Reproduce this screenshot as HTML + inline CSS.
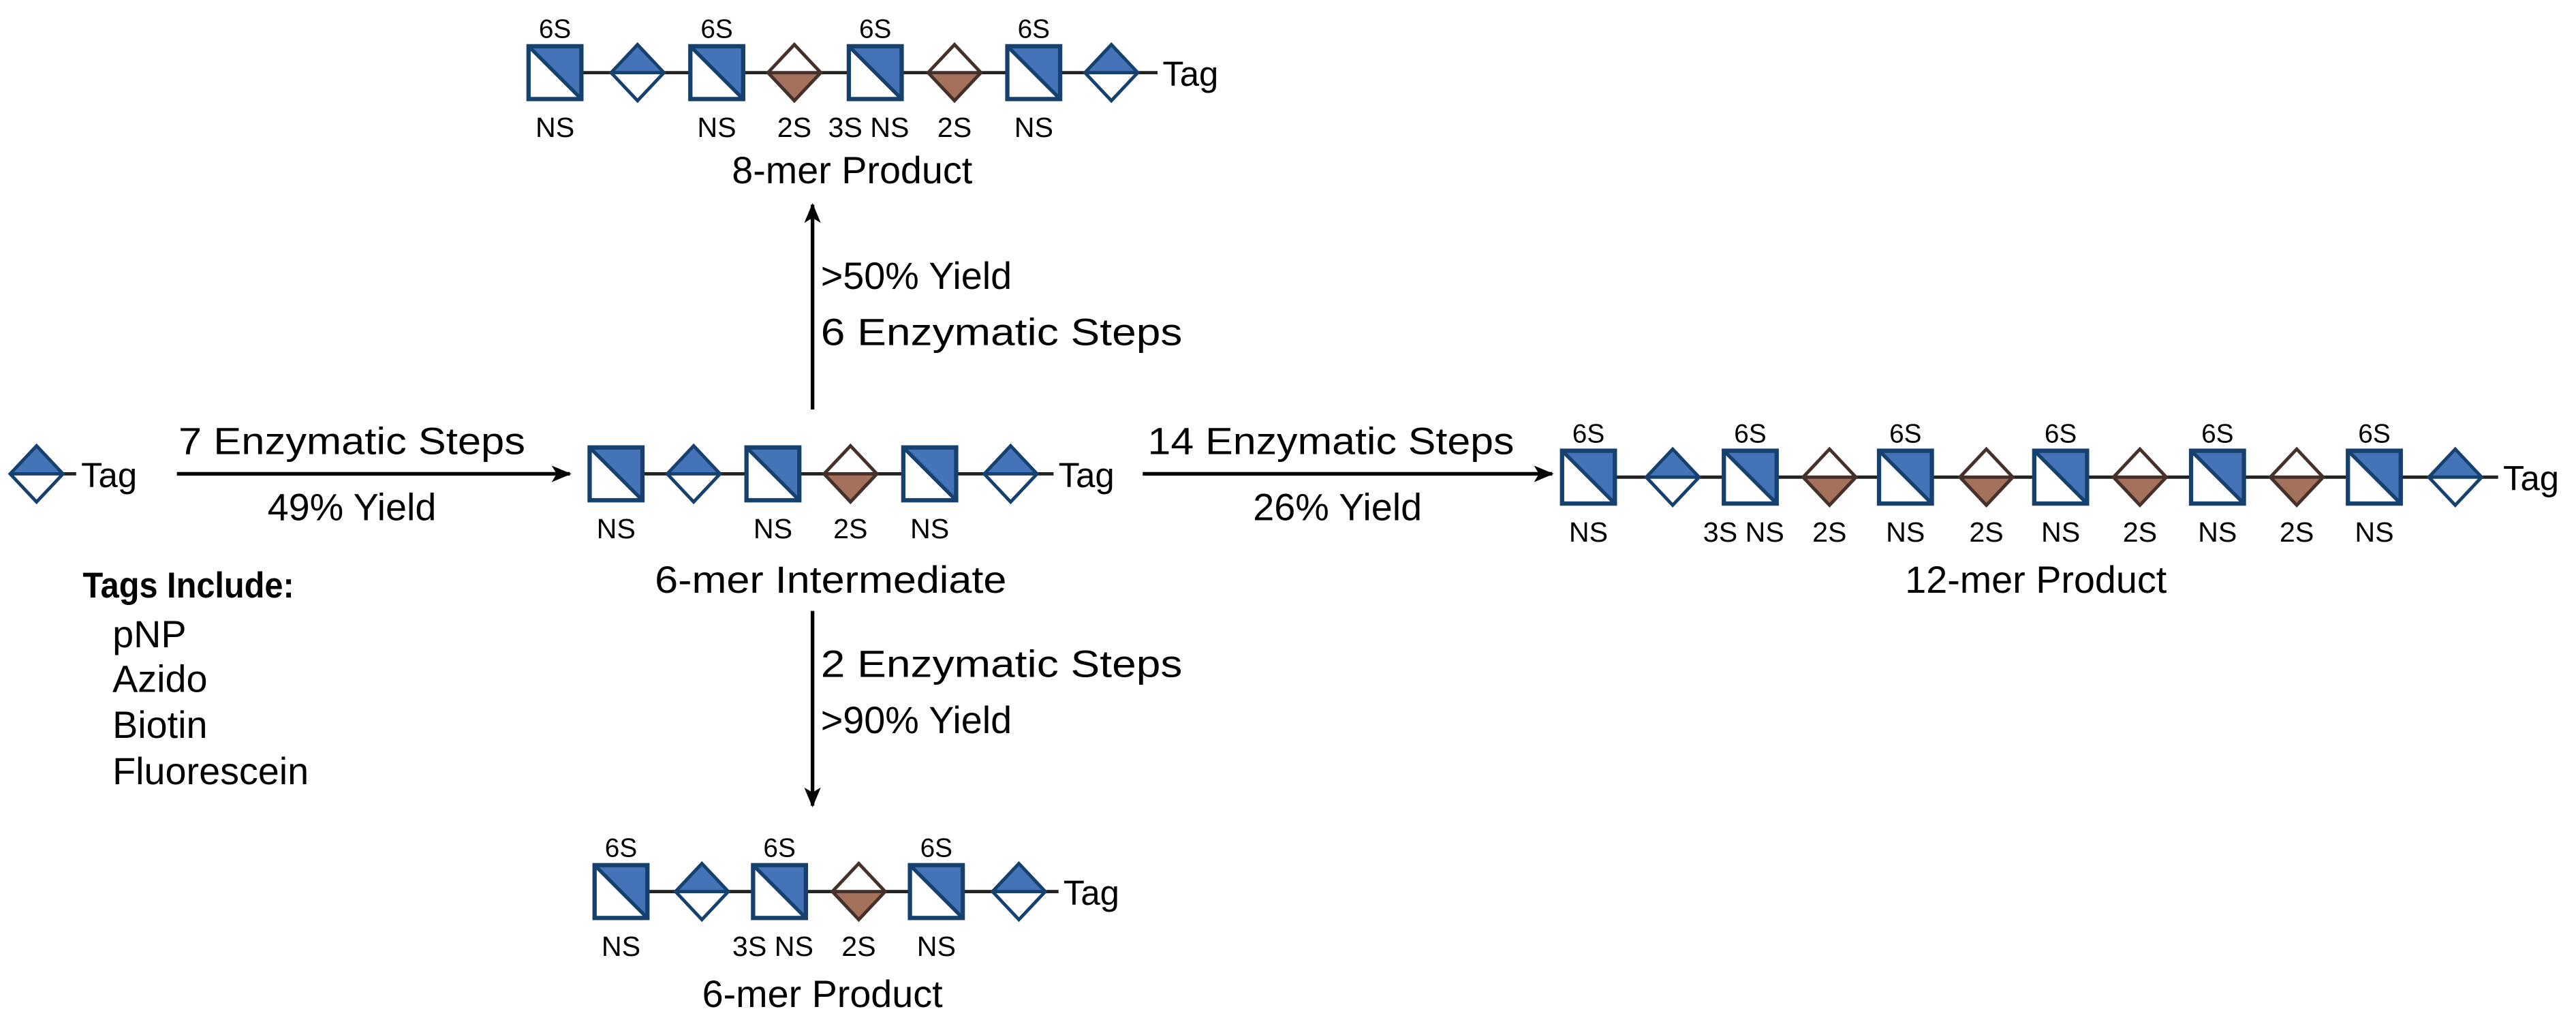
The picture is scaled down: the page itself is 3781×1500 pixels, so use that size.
<!DOCTYPE html>
<html><head><meta charset="utf-8"><style>
html,body{margin:0;padding:0;background:#fff;}
svg{display:block;}
text{font-family:"Liberation Sans",sans-serif;fill:#000;}
</style></head><body>
<svg id="fig" width="3781" height="1500" viewBox="0 0 1560 619" xmlns="http://www.w3.org/2000/svg">
<defs>
<marker id="ah" viewBox="0 0 12 10" refX="11" refY="5" markerWidth="12" markerHeight="10" markerUnits="userSpaceOnUse" orient="auto">
<path d="M0,0 L12,5 L0,10 L3,5 Z" fill="#000"/>
</marker>
</defs>
<g id="arrows">
<line x1="107" y1="287" x2="345" y2="287" stroke="#000" stroke-width="2.2" marker-end="url(#ah)"/>
<line x1="692" y1="287" x2="940" y2="287" stroke="#000" stroke-width="2.2" marker-end="url(#ah)"/>
<line x1="492" y1="248" x2="492" y2="124" stroke="#000" stroke-width="2.2" marker-end="url(#ah)"/>
<line x1="492" y1="370" x2="492" y2="488" stroke="#000" stroke-width="2.2" marker-end="url(#ah)"/>
</g>
<g font-size="23">
<text x="213" y="275" text-anchor="middle" textLength="210" lengthAdjust="spacingAndGlyphs">7 Enzymatic Steps</text>
<text x="213" y="315" text-anchor="middle">49% Yield</text>
<text x="806" y="275" text-anchor="middle" textLength="222" lengthAdjust="spacingAndGlyphs">14 Enzymatic Steps</text>
<text x="810" y="315" text-anchor="middle">26% Yield</text>
<text x="497" y="175">&gt;50% Yield</text>
<text x="497" y="209" textLength="219" lengthAdjust="spacingAndGlyphs">6 Enzymatic Steps</text>
<text x="497" y="410" textLength="219" lengthAdjust="spacingAndGlyphs">2 Enzymatic Steps</text>
<text x="497" y="444">&gt;90% Yield</text>
<text x="50" y="362" font-weight="bold" font-size="22" textLength="128" lengthAdjust="spacingAndGlyphs">Tags Include:</text>
<text x="68" y="392">pNP</text>
<text x="68" y="419">Azido</text>
<text x="68" y="447">Biotin</text>
<text x="68" y="475">Fluorescein</text>
<text x="516" y="111" text-anchor="middle">8-mer Product</text>
<text x="503" y="359" text-anchor="middle" textLength="213" lengthAdjust="spacingAndGlyphs">6-mer Intermediate</text>
<text x="1233" y="359" text-anchor="middle">12-mer Product</text>
<text x="498" y="610" text-anchor="middle">6-mer Product</text>
</g>
<g id="chains"></g>
</svg>
<script>
// residue types: S = sulfated glucosamine square, B = blue diamond (GlcA), R = brown diamond (IdoA)
const chain8Types = ["S","B","S","R","S","R","S","B"];
const chain8X = [336,386,434,481,530,578,626,673];
const chain8Top = ["6S","","6S","","6S","","6S",""];
const chain8Bot = ["NS","","NS","2S","3S NS","2S","NS",""];
const chain6iTypes = ["S","B","S","R","S","B"];
const chain6iX = [373,420,468,515,563,612];
const chain6iTop = ["","","","","",""];
const chain6iBot = ["NS","","NS","2S","NS",""];
const chain12Types = ["S","B","S","R","S","R","S","R","S","R","S","B"];
const chain12X = [962,1013,1060,1108,1154,1203,1248,1296,1343,1391,1438,1487];
const chain12Top = ["6S","","6S","","6S","","6S","","6S","","6S",""];
const chain12Bot = ["NS","","3S NS","2S","NS","2S","NS","2S","NS","2S","NS",""];
const chain6pTypes = ["S","B","S","R","S","B"];
const chain6pX = [376,425,472,520,567,617];
const chain6pTop = ["6S","","6S","","6S",""];
const chain6pBot = ["NS","","3S NS","2S","NS",""];
const startTypes = ["B"];
const startX = [22];

const NS = "http://www.w3.org/2000/svg";
const root = document.getElementById("chains");
function mk(tag, attrs, parent){const e=document.createElementNS(NS,tag);for(const k in attrs)e.setAttribute(k,attrs[k]);parent.appendChild(e);return e;}

function drawChain(name, types, xs, tops, bots, cy, tagX){
  const g = mk("g",{},root);
  
  
  const ln = mk("line",{x1:xs[0],y1:cy,x2:tagX-3,y2:cy,stroke:"#222","stroke-width":2},g);
  
  
  types.forEach((t,i)=>{
    const x = xs[i];
    const r = mk("g",{},g);
    
    
    if(t==="S"){
      const h=16;
      mk("rect",{x:x-h,y:cy-h,width:2*h,height:2*h,fill:"#fff"},r);
      mk("path",{d:`M${x-h},${cy-h} L${x+h},${cy-h} L${x+h},${cy+h} Z`,fill:"#4473b8"},r);
      mk("line",{x1:x-h,y1:cy-h,x2:x+h,y2:cy+h,stroke:"#16406e","stroke-width":2.2},r);
      mk("rect",{x:x-h,y:cy-h,width:2*h,height:2*h,fill:"none",stroke:"#16406e","stroke-width":2.6},r);
    } else {
      const w=16,h=17;
      const blue = t==="B";
      const stroke = blue?"#16406e":"#45302a";
      mk("path",{d:`M${x-w},${cy} L${x},${cy-h} L${x+w},${cy} Z`,fill:blue?"#4473b8":"#fff"},r);
      mk("path",{d:`M${x-w},${cy} L${x},${cy+h} L${x+w},${cy} Z`,fill:blue?"#fff":"#a4725c"},r);
      mk("path",{d:`M${x-w},${cy} L${x},${cy-h} L${x+w},${cy} L${x},${cy+h} Z M${x-w},${cy} L${x+w},${cy}`,fill:"none",stroke:stroke,"stroke-width":2},r);
    }
    if(tops[i]){const tx=mk("text",{x:x,y:cy-21,"text-anchor":"middle","font-size":16},g);tx.textContent=tops[i];
      
      }
    if(bots[i]){const tx=mk("text",{x:bots[i].length>3?x-4:x,y:cy+39,"text-anchor":"middle","font-size":17},g);tx.textContent=bots[i];
      
      }
  });
  const tg = mk("text",{x:tagX,y:cy+8,"font-size":21},g);
  tg.textContent="Tag";
  
  
}
drawChain('start-monosaccharide', startTypes, startX, [""], [""], 287, 49);
drawChain('chain-6mer-intermediate', chain6iTypes, chain6iX, chain6iTop, chain6iBot, 287, 641);
drawChain('chain-8mer-product', chain8Types, chain8X, chain8Top, chain8Bot, 44, 704);
drawChain('chain-12mer-product', chain12Types, chain12X, chain12Top, chain12Bot, 289, 1516);
drawChain('chain-6mer-product', chain6pTypes, chain6pX, chain6pTop, chain6pBot, 540, 644);
</script>
</body></html>
